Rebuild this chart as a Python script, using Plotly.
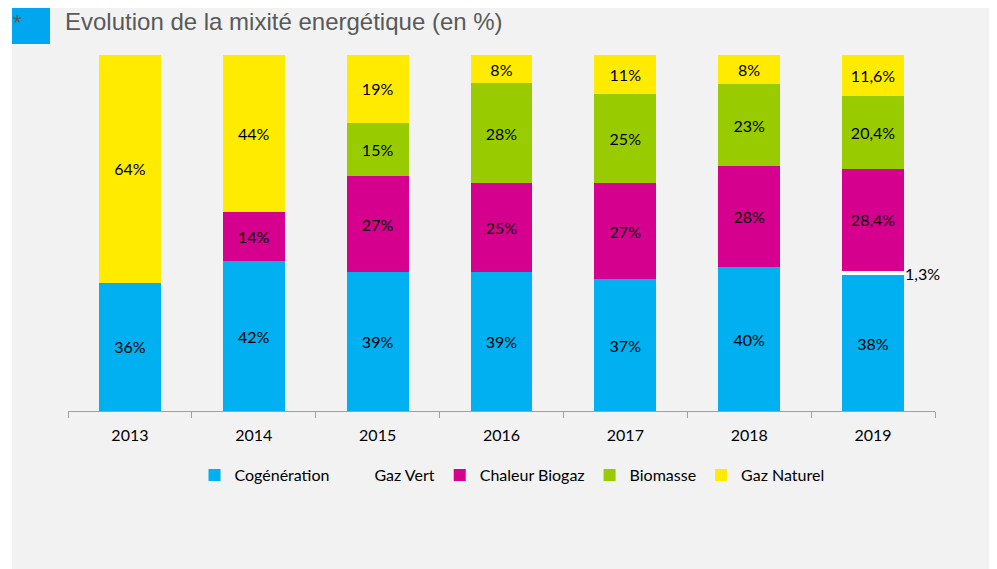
import plotly.graph_objects as go

years = ["2013", "2014", "2015", "2016", "2017", "2018", "2019"]
cogeneration = [36, 42, 39, 39, 37, 40, 38]
gaz_vert = [0, 0, 0, 0, 0, 0, 1.3]
chaleur_biogaz = [0, 14, 27, 25, 27, 28, 28.4]
biomasse = [0, 0, 15, 28, 25, 23, 20.4]
gaz_naturel = [64, 44, 19, 8, 11, 8, 11.6]

series = [
    ("Cogénération", cogeneration, "#00b0f0"),
    ("Gaz Vert", gaz_vert, "#ffffff"),
    ("Chaleur Biogaz", chaleur_biogaz, "#d6008e"),
    ("Biomasse", biomasse, "#99cc00"),
    ("Gaz Naturel", gaz_naturel, "#ffeb00"),
]

def fmt(v):
    if v == 0:
        return ""
    s = f"{v:g}".replace(".", ",")
    return s + "%"

FONT = "Lato, 'Open Sans', sans-serif"
BG = "#f2f2f2"

fig = go.Figure()
for i, (name, vals, col) in enumerate(series):
    is_gv = name == "Gaz Vert"
    texts = ["" if is_gv else fmt(v) for v in vals]
    fig.add_trace(go.Bar(
        name=name, x=years, y=vals, marker=dict(color=col, line=dict(width=0)),
        text=texts, textposition="inside", insidetextanchor="middle",
        textfont=dict(color="#000000", size=16, family=FONT),
        constraintext="none", hoverinfo="x+y+name",
        showlegend=not is_gv, legendrank=i + 1, legendgroup=name,
    ))
    if is_gv:
        # legend entry: the white swatch is not visible on the grey background in the reference
        fig.add_trace(go.Bar(
            name=name, x=years, y=[None] * len(years), marker=dict(color=BG, line=dict(width=0)),
            showlegend=True, legendrank=i + 1, legendgroup=name, hoverinfo="skip",
        ))

# outside label for Gaz Vert 2019 (category index of 2019)
fig.add_annotation(x=len(years) - 1, y=cogeneration[-1] + gaz_vert[-1] / 2, xref="x", yref="y",
                   text=fmt(gaz_vert[-1]), showarrow=False, xanchor="left", xshift=30,
                   font=dict(color="#000000", size=16, family=FONT))

OFF = 8  # page body margin
W, H = 997 - OFF, 569 - OFF
L, T = 68 - OFF, 55 - OFF
R = W - (935 - OFF)
B = H - (411 - OFF)
pw, ph = W - L - R, H - T - B

def px(s):
    return (s - OFF - L) / pw

def py(s):
    return (H - B - (s - OFF)) / ph

fig.add_shape(type="rect", xref="paper", yref="paper", x0=px(12), x1=px(1000), y0=py(575), y1=py(6),
              fillcolor=BG, line=dict(width=0), layer="below")
fig.add_shape(type="rect", xref="paper", yref="paper", x0=px(12), x1=px(50), y0=py(44), y1=py(6),
              fillcolor="#00a6ee", line=dict(width=0), layer="below")
fig.add_annotation(xref="paper", yref="paper", x=px(11), y=py(8), text="*", showarrow=False,
                   xanchor="left", yanchor="top", font=dict(color="#595959", size=22, family="Liberation Sans, Arial"))
fig.add_annotation(xref="paper", yref="paper", x=px(63), y=py(22), text="Evolution de la mixité energétique (en %)",
                   showarrow=False, xanchor="left", yanchor="middle",
                   font=dict(color="#595959", size=24, family="Liberation Sans, Arial"))

fig.update_layout(
    width=W, height=H, barmode="stack", barnorm="percent", bargap=0.5,
    paper_bgcolor="#ffffff", plot_bgcolor="rgba(0,0,0,0)",
    margin=dict(l=L, r=R, t=T, b=B, autoexpand=False),
    font=dict(family=FONT, size=16, color="#000000"),
    showlegend=True,
    legend=dict(orientation="h", x=px(512), xanchor="center", y=py(475), yanchor="middle",
                font=dict(size=16, family=FONT, color="#000000"), bgcolor="rgba(0,0,0,0)",
                itemwidth=30, traceorder="normal"),
    xaxis=dict(type="category", range=[-0.5, len(years) - 0.5], showline=True, linecolor="#a0a0a0", linewidth=1,
               ticks="outside", tickson="boundaries", ticklen=6, tickcolor="#a0a0a0",
               ticklabelstandoff=10,
               tickfont=dict(size=16, family=FONT, color="#000000"), showgrid=False, fixedrange=True),
    yaxis=dict(visible=False, range=[0, 100], showgrid=False),
)

fig.write_html("out.html")
